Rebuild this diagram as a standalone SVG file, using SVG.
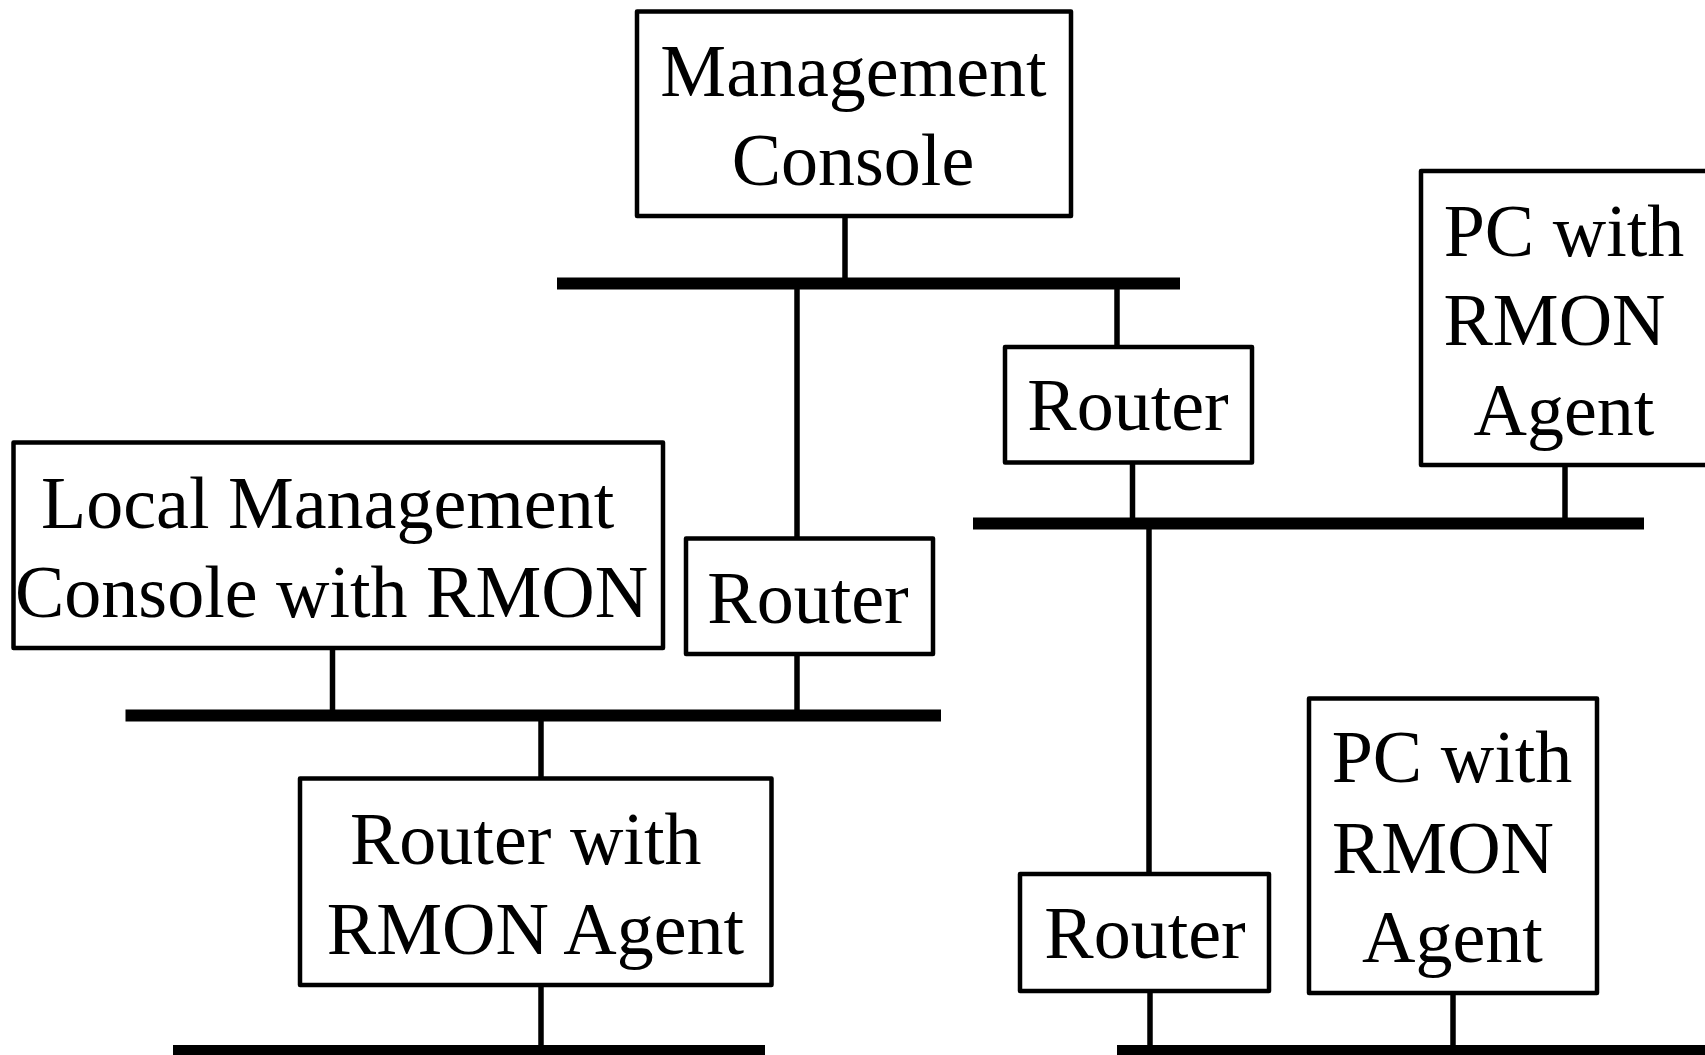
<svg xmlns="http://www.w3.org/2000/svg" width="1705" height="1055" viewBox="0 0 1705 1055">
<style>
.box{fill:#fff;stroke:#000;stroke-width:4.5;stroke-linejoin:round}
.t{font-family:"Liberation Serif","Times New Roman",serif;font-size:74px;fill:#000}
.m{text-anchor:middle}
.bus{stroke:#000;stroke-width:12;fill:none}
.ln{stroke:#000;stroke-width:5.5;fill:none}
</style>
<rect width="1705" height="1055" fill="#fff"/>
<g id="connectors">
<line class="bus" x1="557" y1="283.5" x2="1180" y2="283.5"/>
<line class="bus" x1="973" y1="523.5" x2="1644" y2="523.5"/>
<line class="bus" x1="125.5" y1="715.5" x2="941" y2="715.5"/>
<line class="bus" x1="173" y1="1051" x2="765" y2="1051"/>
<line class="bus" x1="1117" y1="1051" x2="1705" y2="1051"/>
<line class="ln" x1="845" y1="216" x2="845" y2="278"/>
<line class="ln" x1="797" y1="289" x2="797" y2="538"/>
<line class="ln" x1="1117" y1="289" x2="1117" y2="347"/>
<line class="ln" x1="1132.5" y1="462" x2="1132.5" y2="518"/>
<line class="ln" x1="1565" y1="465" x2="1565" y2="518"/>
<line class="ln" x1="1149" y1="529" x2="1149" y2="874"/>
<line class="ln" x1="332.5" y1="648" x2="332.5" y2="710"/>
<line class="ln" x1="797" y1="654" x2="797" y2="710"/>
<line class="ln" x1="541" y1="721" x2="541" y2="778"/>
<line class="ln" x1="541" y1="985" x2="541" y2="1046"/>
<line class="ln" x1="1150" y1="991" x2="1150" y2="1046"/>
<line class="ln" x1="1453" y1="993" x2="1453" y2="1046"/>
</g>
<g id="management-console">
<rect class="box" x="637" y="11.5" width="434" height="204.5"/>
<text class="t m" x="853.5" y="96">Management</text>
<text class="t m" x="853" y="185">Console</text>
</g>
<g id="router-top">
<rect class="box" x="1005" y="347" width="247" height="115.5"/>
<text class="t m" x="1128" y="430">Router</text>
</g>
<g id="pc-top">
<rect class="box" x="1421" y="171" width="300" height="294"/>
<text class="t m" x="1564" y="256">PC with</text>
<text class="t" x="1443.5" y="345">RMON</text>
<text class="t m" x="1564" y="435">Agent</text>
</g>
<g id="local-management-console">
<rect class="box" x="13.5" y="442.5" width="649.5" height="205.5"/>
<text class="t" x="41" y="527.5">Local Management</text>
<text class="t" x="15" y="616.5">Console with RMON</text>
</g>
<g id="router-mid">
<rect class="box" x="686" y="538.5" width="247" height="115.5"/>
<text class="t m" x="808" y="622.5">Router</text>
</g>
<g id="router-rmon">
<rect class="box" x="300" y="778.5" width="471.5" height="206.5"/>
<text class="t" x="350" y="863.5">Router with</text>
<text class="t m" x="535.5" y="953.5">RMON Agent</text>
</g>
<g id="router-bottom">
<rect class="box" x="1020" y="874" width="249" height="117"/>
<text class="t m" x="1145" y="958">Router</text>
</g>
<g id="pc-bottom">
<rect class="box" x="1309" y="698.5" width="288" height="294.5"/>
<text class="t m" x="1452" y="782">PC with</text>
<text class="t" x="1332" y="872.5">RMON</text>
<text class="t m" x="1452.5" y="961.5">Agent</text>
</g>
</svg>
